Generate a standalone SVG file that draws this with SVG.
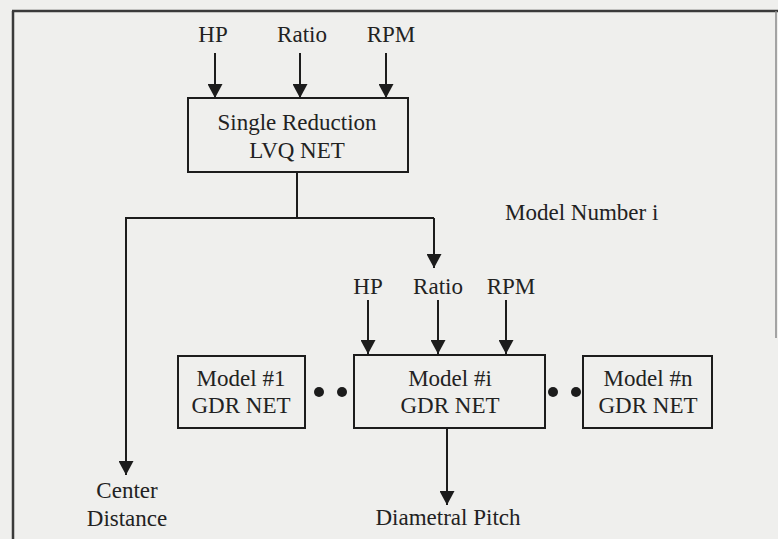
<svg xmlns="http://www.w3.org/2000/svg" width="778" height="539" viewBox="0 0 778 539">
  <style>
    .bg { fill: #efefed; }
    .box { fill: none; stroke: #1c1c1c; stroke-width: 2; }
    .wire { fill: none; stroke: #1c1c1c; stroke-width: 2; }
    .frame { fill: none; stroke: #3a3a3a; stroke-width: 2.5; }
    .label { font-family: "Liberation Serif", "Times New Roman", serif; font-size: 23px; fill: #222; text-anchor: middle; }
    .dot { fill: #1c1c1c; }
  </style>
  <defs>
    <marker id="head" viewBox="0 0 14 15" refX="14" refY="7.5" markerWidth="14" markerHeight="15" markerUnits="userSpaceOnUse" orient="auto">
      <path d="M0,0 L14,7.5 L0,15 z" fill="#1c1c1c"/>
    </marker>
  </defs>

  <rect class="bg" x="0" y="0" width="778" height="539"/>

  <!-- page frame -->
  <g id="frame">
    <path class="frame" d="M12,11 L778,11"/>
    <path class="frame" d="M13,11 L13,539"/>
    <path d="M776,11 L776,338" fill="none" stroke="#8a8a8a" stroke-width="1.5"/>
  </g>

  <!-- connectors -->
  <g id="connectors">
    <path class="wire" d="M215,53 L215,98" marker-end="url(#head)"/>
    <path class="wire" d="M300,53 L300,98" marker-end="url(#head)"/>
    <path class="wire" d="M386,53 L386,98" marker-end="url(#head)"/>
    <path class="wire" d="M297,172 L297,218"/>
    <path class="wire" d="M126,218 L434,218"/>
    <path class="wire" d="M434,218 L434,268" marker-end="url(#head)"/>
    <path class="wire" d="M126,217 L126,475" marker-end="url(#head)"/>
    <path class="wire" d="M368,300 L368,354" marker-end="url(#head)"/>
    <path class="wire" d="M438,300 L438,354" marker-end="url(#head)"/>
    <path class="wire" d="M506,300 L506,354" marker-end="url(#head)"/>
    <path class="wire" d="M447,428 L447,505" marker-end="url(#head)"/>
  </g>

  <!-- top inputs -->
  <g id="inputs-top">
    <text class="label" x="213" y="42">HP</text>
    <text class="label" x="302" y="42">Ratio</text>
    <text class="label" x="391" y="42">RPM</text>
  </g>

  <g id="lvq-net">
    <rect class="box" x="188" y="98" width="220" height="74"/>
    <text class="label" x="297" y="130">Single Reduction</text>
    <text class="label" x="297" y="158">LVQ NET</text>
  </g>

  <g id="model-number-label">
    <text class="label" x="505" y="220" style="text-anchor: start">Model Number i</text>
  </g>

  <!-- model inputs -->
  <g id="inputs-model">
    <text class="label" x="368" y="294">HP</text>
    <text class="label" x="438" y="294">Ratio</text>
    <text class="label" x="511" y="294">RPM</text>
  </g>

  <g id="model-1">
    <rect class="box" x="178" y="356" width="127" height="72"/>
    <text class="label" x="241" y="386">Model #1</text>
    <text class="label" x="241" y="413">GDR NET</text>
  </g>

  <g id="dots-left">
    <circle class="dot" cx="319" cy="392" r="5"/>
    <circle class="dot" cx="342" cy="392" r="5"/>
  </g>

  <g id="model-i">
    <rect class="box" x="354" y="355" width="191" height="73"/>
    <text class="label" x="450" y="386">Model #i</text>
    <text class="label" x="450" y="413">GDR NET</text>
  </g>

  <g id="dots-right">
    <circle class="dot" cx="553" cy="392" r="5"/>
    <circle class="dot" cx="576" cy="392" r="5"/>
  </g>

  <g id="model-n">
    <rect class="box" x="583" y="356" width="129" height="72"/>
    <text class="label" x="648" y="386">Model #n</text>
    <text class="label" x="648" y="413">GDR NET</text>
  </g>

  <g id="center-distance">
    <text class="label" x="127" y="498">Center</text>
    <text class="label" x="127" y="526">Distance</text>
  </g>

  <g id="diametral-pitch">
    <text class="label" x="448" y="525">Diametral Pitch</text>
  </g>
</svg>
